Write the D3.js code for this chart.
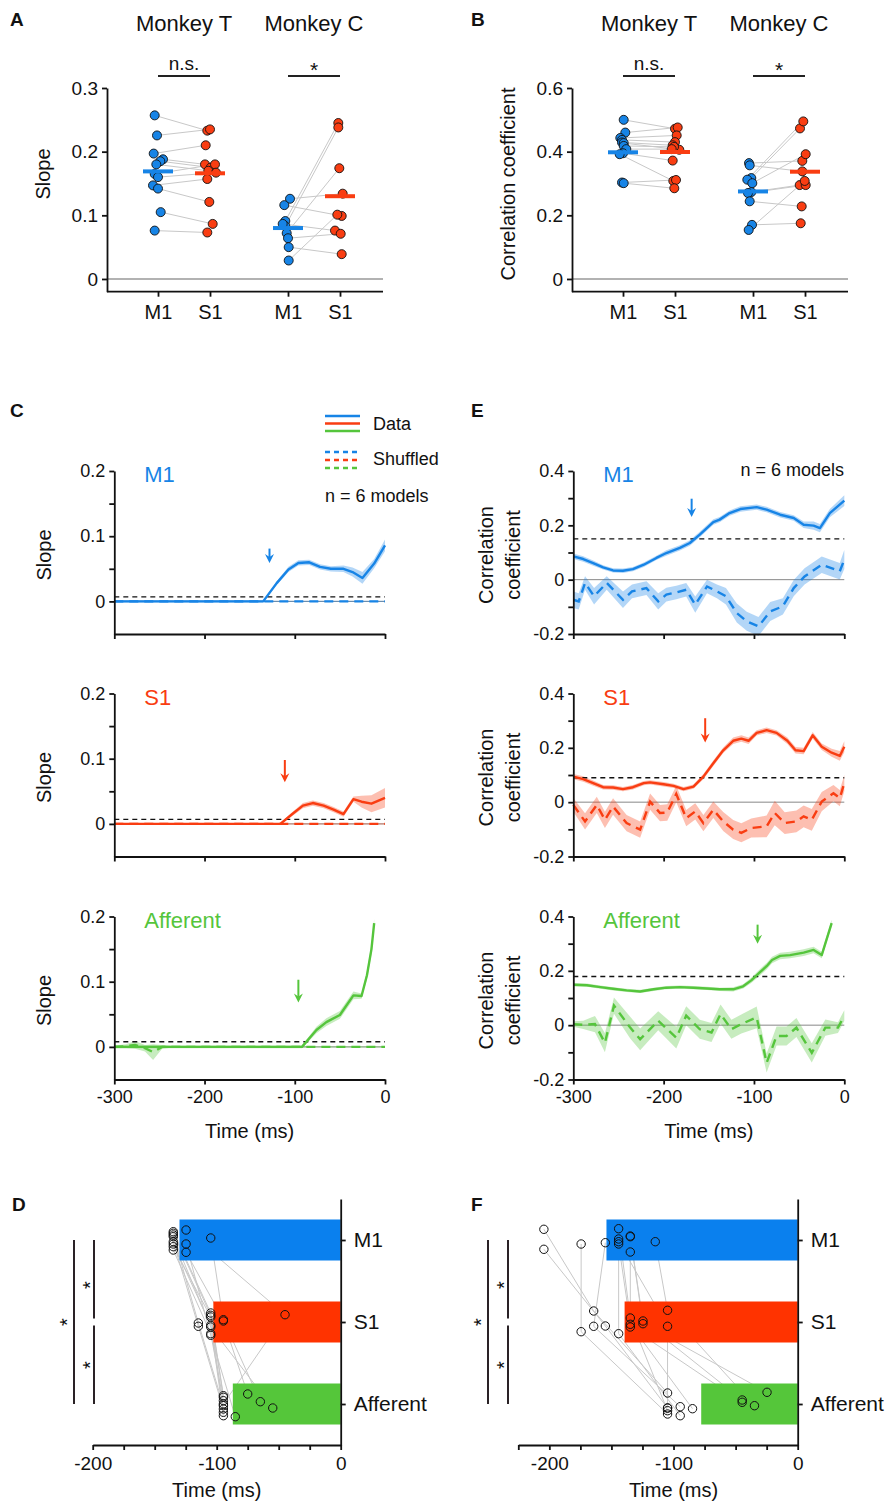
<!DOCTYPE html>
<html>
<head>
<meta charset="utf-8">
<script src="https://cdn.jsdelivr.net/npm/d3@7"></script>
<style>
body { margin: 0; background: #fff; }
text { font-family: 'Liberation Sans', Arial, Helvetica, sans-serif; fill: #111; }
</style>
</head>
<body>
<div id="fig"></div>
<script>
// ---------- data ----------
var monkeys = ["Monkey T", "Monkey C"];
var areas2 = ["M1", "S1"];
var areas3 = ["M1", "S1", "Afferent"];

// A: slope per model (paired M1 / S1), x jitter in px
var slopeT_M1 = [0.257, 0.2255, 0.197, 0.188, 0.185, 0.180, 0.165, 0.160, 0.147, 0.142, 0.105, 0.076];
var slopeT_S1 = [0.233, 0.235, 0.210, 0.180, 0.175, 0.170, 0.180, 0.167, 0.157, 0.121, 0.0865, 0.073];
var slopeT_M1j = [-3.3, -1, -4.3, 5, 2.3, -1.7, -3.3, 0, -5, 0, 2.7, -3.3];
var slopeT_S1j = [-2.7, 0, -4.3, -5, 0.7, -1.7, 5, 6, -2.7, -0.7, 2.7, -2.7];
var slopeC_M1 = [0.126, 0.116, 0.091, 0.083, 0.0865, 0.072, 0.064, 0.050, 0.029];
var slopeC_S1 = [0.134, 0.099, 0.245, 0.238, 0.076, 0.174, 0.071, 0.039, 0.101];
var slopeC_M1j = [2, -3.7, -2.7, -2.7, -5.3, -1.3, 0, 0.7, 0.7];
var slopeC_S1j = [2.7, 1.7, -1.7, -1.7, -5, -0.7, 0.7, 1.7, -2.7];
var slopeMedians = {T: [0.169, 0.166], C: [0.080, 0.130]};

// B: correlation coefficient per model
var corrT_M1 = [0.500, 0.460, 0.443, 0.437, 0.429, 0.427, 0.418, 0.408, 0.395, 0.392, 0.303, 0.301];
var corrT_S1 = [0.472, 0.476, 0.451, 0.430, 0.420, 0.406, 0.415, 0.408, 0.372, 0.308, 0.311, 0.285];
var corrT_M1j = [0.7, 2.3, -2.7, -1, -1, 0.7, 0.7, 3.3, 0, -3.3, -1, 0.7];
var corrT_S1j = [0, 2.7, 1.7, 0, -2.3, 4.3, -1, -3.3, -2.3, -1.7, 1, -0.7];
var corrC_M1 = [0.364, 0.357, 0.317, 0.312, 0.301, 0.273, 0.270, 0.244, 0.170, 0.154];
var corrC_S1 = [0.371, 0.338, 0.473, 0.495, 0.392, 0.295, 0.295, 0.228, 0.175, 0.308];
var corrC_M1j = [-4, -3.3, -1.7, -5.7, -0.7, -1.7, -5, -3.3, -1, -4.3];
var corrC_S1j = [-2.7, -2.7, -5, -1.7, 0.7, -5.3, 0.7, -3.3, -4.3, -0.3];
var corrMedians = {T: [0.398, 0.399], C: [0.275, 0.337]};

// C: slope vs time  [time ms, mean, half-width of band]
var cM1Data = [[-300,0,0.0015],[-135,0,0.0015],[-120,0.028,0.003],[-107,0.049,0.004],[-96,0.059,0.004],[-84,0.060,0.004],[-72,0.053,0.004],[-60,0.050,0.004],[-46,0.050,0.005],[-36,0.045,0.007],[-25,0.036,0.009],[-12,0.058,0.007],[0,0.086,0.009]];
var cM1Shuf = [[-300,0,0.001],[0,0,0.001]];
var cS1Data = [[-300,0,0.0015],[-116,0,0.0015],[-102,0.016,0.003],[-91,0.028,0.004],[-80,0.032,0.004],[-68,0.028,0.004],[-57,0.022,0.004],[-46,0.015,0.004],[-35,0.038,0.004],[-26,0.034,0.009],[-15,0.031,0.013],[0,0.040,0.015]];
var cS1Shuf = [[-300,0,0.001],[0,0,0.001]];
var cAffData = [[-300,0,0.002],[-92,0,0.002],[-76,0.026,0.005],[-65,0.038,0.006],[-50,0.049,0.006],[-35,0.079,0.006],[-26,0.078,0.004],[-20,0.11,0.006],[-15,0.15,0.008],[-12,0.19,0.006]];
var cAffShuf = [[-300,0,0.002],[-287,0.001,0.003],[-277,0.003,0.006],[-266,-0.002,0.005],[-257,-0.008,0.012],[-247,0,0.003],[-235,0,0.001],[0,0,0.001]];
var cThresholds = [0.007, 0.007, 0.008];
var cArrows = [[-128, 0.081, 0.059], [-111, 0.098, 0.064], [-96, 0.103, 0.068]]; // time, top, tip

// E: correlation vs time
var eM1Data = [[-300,0.086,0.01],[-289,0.076,0.01],[-278,0.061,0.01],[-267,0.045,0.008],[-256,0.034,0.008],[-245,0.033,0.008],[-234,0.039,0.008],[-222,0.055,0.008],[-208,0.080,0.008],[-197,0.098,0.01],[-182,0.117,0.01],[-171,0.135,0.01],[-160,0.166,0.01],[-145,0.212,0.01],[-138,0.221,0.01],[-127,0.245,0.01],[-115,0.260,0.01],[-97,0.267,0.01],[-86,0.258,0.01],[-71,0.239,0.01],[-56,0.227,0.01],[-45,0.202,0.012],[-34,0.199,0.015],[-27,0.190,0.015],[-16,0.245,0.015],[0,0.291,0.02]];
var eM1Shuf = [[-300,-0.074,0.03],[-294,-0.08,0.03],[-287,-0.012,0.025],[-277,-0.061,0.03],[-263,-0.012,0.025],[-245,-0.074,0.03],[-235,-0.043,0.025],[-219,-0.031,0.025],[-206,-0.080,0.03],[-197,-0.055,0.025],[-186,-0.047,0.025],[-175,-0.037,0.025],[-165,-0.092,0.03],[-152,-0.025,0.025],[-141,-0.043,0.025],[-131,-0.061,0.03],[-119,-0.123,0.035],[-108,-0.153,0.035],[-95,-0.172,0.035],[-82,-0.117,0.035],[-68,-0.098,0.03],[-56,-0.031,0.03],[-44,0.012,0.03],[-25,0.055,0.03],[-5,0.031,0.03],[0,0.074,0.035]];
var eS1Data = [[-300,0.094,0.01],[-289,0.085,0.01],[-278,0.070,0.01],[-267,0.055,0.008],[-256,0.054,0.008],[-245,0.048,0.008],[-234,0.055,0.008],[-222,0.070,0.008],[-215,0.073,0.008],[-200,0.066,0.008],[-189,0.060,0.008],[-178,0.048,0.008],[-167,0.057,0.008],[-156,0.094,0.01],[-145,0.143,0.01],[-134,0.191,0.01],[-123,0.226,0.012],[-114,0.234,0.012],[-106,0.226,0.012],[-97,0.255,0.01],[-86,0.265,0.01],[-75,0.255,0.01],[-63,0.226,0.012],[-54,0.191,0.012],[-45,0.188,0.012],[-35,0.246,0.012],[-25,0.204,0.012],[-14,0.182,0.015],[-5,0.170,0.018],[0,0.204,0.02]];
var eS1Shuf = [[-300,-0.01,0.025],[-287,-0.071,0.03],[-274,-0.01,0.03],[-265,-0.065,0.03],[-256,-0.016,0.03],[-241,-0.077,0.03],[-226,-0.101,0.03],[-215,0.002,0.03],[-204,-0.040,0.03],[-196,-0.038,0.03],[-186,0.030,0.03],[-175,-0.059,0.03],[-165,-0.034,0.03],[-156,-0.077,0.03],[-145,-0.028,0.03],[-134,-0.071,0.035],[-123,-0.101,0.035],[-114,-0.113,0.035],[-103,-0.095,0.035],[-86,-0.089,0.04],[-77,-0.040,0.045],[-66,-0.077,0.04],[-53,-0.071,0.04],[-45,-0.052,0.04],[-36,-0.065,0.04],[-25,0.002,0.035],[-12,0.033,0.03],[-5,0.015,0.03],[0,0.07,0.03]];
var eAffData = [[-300,0.149,0.006],[-285,0.147,0.006],[-270,0.140,0.006],[-256,0.134,0.006],[-241,0.128,0.006],[-226,0.124,0.006],[-211,0.132,0.006],[-197,0.138,0.006],[-182,0.140,0.006],[-167,0.138,0.006],[-152,0.135,0.006],[-138,0.132,0.006],[-123,0.132,0.008],[-112,0.143,0.008],[-103,0.165,0.01],[-93,0.196,0.012],[-86,0.217,0.012],[-80,0.240,0.012],[-71,0.255,0.012],[-60,0.258,0.012],[-45,0.267,0.012],[-34,0.277,0.012],[-25,0.258,0.012],[-14,0.376,0.012]];
var eAffShuf = [[-300,0.004,0.01],[-289,0.001,0.015],[-276,0.004,0.03],[-265,-0.065,0.035],[-255,0.072,0.03],[-237,-0.009,0.04],[-226,-0.052,0.04],[-206,0.016,0.035],[-186,-0.046,0.04],[-175,0.035,0.035],[-160,-0.015,0.035],[-147,-0.027,0.035],[-137,0.041,0.035],[-125,-0.015,0.035],[-114,0.004,0.035],[-97,0.029,0.04],[-86,-0.139,0.035],[-75,-0.040,0.035],[-64,-0.040,0.035],[-53,-0.009,0.035],[-36,-0.102,0.035],[-21,-0.009,0.03],[-7,-0.009,0.02],[0,0.035,0.02]];
var eThresholds = [0.150, 0.090, 0.179];
var eArrows = [[-169, 0.298, 0.231], [-154, 0.309, 0.22], [-96, 0.37, 0.30]];

// D: onset latency per model (ms), bar = group value, y jitter in px
var dBars = [-130, -102.7, -87];
var dM1 = [-135,-135,-135,-135,-135,-135,-124.7,-124.7,-124.7,-104.8,-135,-135];
var dS1 = [-104.8,-104.8,-114.8,-114.8,-104.8,-104.8,-44.9,-104.8,-94.6,-94.6,-104.8,-104.8];
var dAff = [-94.6,-94.6,-94.6,-94.6,-94.6,-94.6,-94.6,-85,-64.8,-75,-54.8,-94.6];
var dM1j = [-8.3,-6.7,-5,1.7,4,10,-10,4,12.3,-2,-3.3,6.7];
var dS1j = [-9,-6.7,1,4.3,3.3,11.7,-7.3,13.3,-2.3,-1,5,-5];
var dAffj = [-8.3,-6.7,1.7,5,11.7,-3.3,0,12.7,-2.3,-10,4,8.3];

// F
var fBars = [-154, -139.4, -77.7];
var fM1 = [-204.4,-204.4,-174.4,-154.9,-144.2,-144.2,-144.2,-134.8,-134.8,-114.7,-134.8,-144.2];
var fS1 = [-164.3,-154.9,-174.4,-164.3,-134.8,-144.2,-134.8,-124.6,-134.8,-104.8,-124.6,-104.8];
var fAff = [-104.8,-104.8,-104.8,-94.6,-104.8,-94.6,-84.7,-44.7,-44.7,-34.8,-24.7,-104.8];
var fM1j = [-10.7,9.3,4,2.7,-11.3,-1,4,-4,12,1.7,-3.3,1.7];
var fS1j = [-11,4,9.7,4.3,-4,11.7,2.3,-1,5,-11.7,1.7,4.3];
var fAffj = [-11,4,10,2.7,6.7,11.7,4.7,-4,-1.7,1.7,-11.7,4];

// ---------- style ----------
var blue = "#1784e6", red = "#f93d12", green = "#55c53c";
var barColors = ["#0a80ee", "#ff3300", "#55c63a"];
var axisW = 1.8;

var svg = d3.select("#fig").append("svg").attr("width", 890).attr("height", 1508);

function fmt(d) { return d === 0 ? "0" : d3.format(".1f")(d).replace("\u2212", "-"); }

function styleAxis(g, size) {
  g.selectAll("path,line").attr("stroke", "#111").attr("stroke-width", axisW);
  g.selectAll("text").attr("font-size", size).attr("font-family", "'Liberation Sans', Arial, sans-serif").attr("fill", "#111");
}

function letter(x, y, s) {
  svg.append("text").attr("x", x).attr("y", y).text(s).style("font-weight", "bold").style("font-size", "19px");
}

function vlabel(x, y, s, size) {
  svg.append("text").attr("transform", "translate(" + x + "," + y + ") rotate(-90)")
    .attr("text-anchor", "middle").attr("dominant-baseline", "central").style("font-size", size + "px").text(s);
}

// ---------- A / B ----------
function pairPanel(p) {
  var y = d3.scaleLinear().domain(p.yDom).range([291.7, 88]);
  var mx = d3.scaleBand().domain(monkeys).range(p.mRange);
  var ax = d3.scalePoint().domain(areas2).range([-26, 26]);
  var cx = function (m, a) { return mx(m) + mx.bandwidth() / 2 + ax(a); };

  svg.append("line").attr("x1", p.axisX).attr("x2", p.xEnd).attr("y1", y(0)).attr("y2", y(0))
    .attr("stroke", "#999").attr("stroke-width", 1.5);

  var ya = svg.append("g").attr("transform", "translate(" + p.axisX + ",0)")
    .call(d3.axisLeft(y).tickValues(p.ticks).tickSize(5).tickSizeOuter(0).tickPadding(4).tickFormat(fmt));
  styleAxis(ya, 19);

  svg.append("line").attr("x1", p.axisX).attr("x2", p.xEnd).attr("y1", 291.7).attr("y2", 291.7)
    .attr("stroke", "#111").attr("stroke-width", axisW);
  monkeys.forEach(function (m) {
    var c = mx(m) + mx.bandwidth() / 2;
    var xa = svg.append("g").attr("transform", "translate(" + c + ",291.7)")
      .call(d3.axisBottom(ax).tickSize(5).tickSizeOuter(0).tickPadding(8));
    xa.select(".domain").remove();
    styleAxis(xa, 20);
    svg.append("text").attr("x", c).attr("y", 31).attr("text-anchor", "middle").style("font-size", "22px").text(m);
    svg.append("line").attr("x1", cx(m, "M1")).attr("x2", cx(m, "S1")).attr("y1", 76).attr("y2", 76)
      .attr("stroke", "#222").attr("stroke-width", 1.8);
  });
  svg.append("text").attr("x", cx("Monkey T", "M1") + 26).attr("y", 70).attr("text-anchor", "middle").style("font-size", "19px").text("n.s.");
  svg.append("text").attr("x", cx("Monkey C", "M1") + 26).attr("y", 77).attr("text-anchor", "middle").style("font-size", "21px").text("*");

  vlabel(p.labelX, p.labelY, p.label, 20);

  p.groups.forEach(function (gr) {
    var pairs = gr.m1.map(function (v, i) { return {a: v, b: gr.s1[i], ja: gr.m1j[i], jb: gr.s1j[i]}; });
    svg.append("g").selectAll("line").data(pairs).enter().append("line")
      .attr("x1", function (d) { return cx(gr.m, "M1") + d.ja; }).attr("y1", function (d) { return y(d.a); })
      .attr("x2", function (d) { return cx(gr.m, "S1") + d.jb; }).attr("y2", function (d) { return y(d.b); })
      .attr("stroke", "#c8c8c8").attr("stroke-width", 1);
    [["M1", "a", "ja", blue, 0], ["S1", "b", "jb", red, 1]].forEach(function (s) {
      svg.append("g").selectAll("circle").data(pairs).enter().append("circle")
        .attr("cx", function (d) { return cx(gr.m, s[0]) + d[s[2]]; })
        .attr("cy", function (d) { return y(d[s[1]]); })
        .attr("r", 4.5).attr("fill", s[3]).attr("stroke", "#111").attr("stroke-width", 0.9);
      svg.append("line").attr("x1", cx(gr.m, s[0]) - 15).attr("x2", cx(gr.m, s[0]) + 15)
        .attr("y1", y(gr.med[s[4]])).attr("y2", y(gr.med[s[4]]))
        .attr("stroke", s[3]).attr("stroke-width", 4);
    });
  });
}

pairPanel({yDom: [-0.02, 0.3], ticks: [0, 0.1, 0.2, 0.3], axisX: 107, xEnd: 383, mRange: [119, 379],
  label: "Slope", labelX: 43, labelY: 174,
  groups: [
    {m: "Monkey T", m1: slopeT_M1, s1: slopeT_S1, m1j: slopeT_M1j, s1j: slopeT_S1j, med: slopeMedians.T},
    {m: "Monkey C", m1: slopeC_M1, s1: slopeC_S1, m1j: slopeC_M1j, s1j: slopeC_S1j, med: slopeMedians.C}
  ]});
pairPanel({yDom: [-0.04, 0.6], ticks: [0, 0.2, 0.4, 0.6], axisX: 572, xEnd: 848, mRange: [584, 844],
  label: "Correlation coefficient", labelX: 508, labelY: 184,
  groups: [
    {m: "Monkey T", m1: corrT_M1, s1: corrT_S1, m1j: corrT_M1j, s1j: corrT_S1j, med: corrMedians.T},
    {m: "Monkey C", m1: corrC_M1, s1: corrC_S1, m1j: corrC_M1j, s1j: corrC_S1j, med: corrMedians.C}
  ]});

// ---------- C / E ----------
function timePanel(p) {
  var x = d3.scaleLinear().domain([-300, 0]).range([p.x0, p.x1]);
  var y = d3.scaleLinear().domain(p.yDom).range([p.top + 163, p.top]);
  var g = svg.append("g");
  var area = d3.area().x(function (d) { return x(d[0]); })
    .y0(function (d) { return y(d[1] - d[2]); }).y1(function (d) { return y(d[1] + d[2]); });
  var line = d3.line().x(function (d) { return x(d[0]); }).y(function (d) { return y(d[1]); });

  g.append("line").attr("x1", p.x0).attr("x2", p.x1).attr("y1", y(0)).attr("y2", y(0))
    .attr("stroke", "#888").attr("stroke-width", 1);
  g.append("path").attr("d", area(p.shuf)).attr("fill", p.color).attr("opacity", 0.33);
  g.append("path").attr("d", area(p.data)).attr("fill", p.color).attr("opacity", 0.33);
  g.append("line").attr("x1", p.x0).attr("x2", p.x1).attr("y1", y(p.thr)).attr("y2", y(p.thr))
    .attr("stroke", "#111").attr("stroke-width", 1.4).attr("stroke-dasharray", "5,4");
  g.append("path").attr("d", line(p.shuf)).attr("fill", "none").attr("stroke", p.color)
    .attr("stroke-width", 2.4).attr("stroke-dasharray", "9,6");
  g.append("path").attr("d", line(p.data)).attr("fill", "none").attr("stroke", p.color)
    .attr("stroke-width", 2.4).attr("stroke-linejoin", "round");

  // onset arrow
  var ax = x(p.arrow[0]), yTop = y(p.arrow[1]), yTip = y(p.arrow[2]);
  g.append("line").attr("x1", ax).attr("x2", ax).attr("y1", yTop).attr("y2", yTip - 4)
    .attr("stroke", p.color).attr("stroke-width", 2);
  g.append("path").attr("d", "M" + ax + "," + yTip + "L" + (ax - 4.5) + "," + (yTip - 9) +
    "L" + ax + "," + (yTip - 6) + "L" + (ax + 4.5) + "," + (yTip - 9) + "Z").attr("fill", p.color);

  var ya = g.append("g").attr("transform", "translate(" + p.x0 + ",0)")
    .call(d3.axisLeft(y).tickValues(p.ticks.concat(p.minor)).tickSize(5).tickSizeOuter(0).tickPadding(4)
      .tickFormat(function (d) { return p.ticks.indexOf(d) >= 0 ? fmt(d) : ""; }));
  styleAxis(ya, 18);
  var xa = g.append("g").attr("transform", "translate(0," + (p.top + 163) + ")")
    .call(d3.axisBottom(x).tickValues([-300, -200, -100, 0]).tickSize(5).tickSizeOuter(0).tickPadding(6)
      .tickFormat(function (d) { return p.showX ? String(d) : ""; }));
  styleAxis(xa, 18);
  if (p.showX) {
    g.append("text").attr("x", (p.x0 + p.x1) / 2).attr("y", p.top + 221).attr("text-anchor", "middle")
      .style("font-size", "20px").text("Time (ms)");
  }
  g.append("text").attr("x", p.x0 + 30).attr("y", p.top + 11).attr("fill", p.color)
    .style("fill", p.color).style("font-size", "22px").text(p.name);
}

var rowTops = [471, 693.5, 916.5];
var rowNames = ["M1", "S1", "Afferent"];
var rowColors = [blue, red, green];
var cData = [cM1Data, cS1Data, cAffData], cShuf = [cM1Shuf, cS1Shuf, cAffShuf];
var eData = [eM1Data, eS1Data, eAffData], eShuf = [eM1Shuf, eS1Shuf, eAffShuf];

rowTops.forEach(function (top, i) {
  timePanel({x0: 114.3, x1: 385, top: top, yDom: [-0.05, 0.2], ticks: [0, 0.1, 0.2], minor: [0.05, 0.15],
    data: cData[i], shuf: cShuf[i], thr: cThresholds[i], arrow: cArrows[i], color: rowColors[i],
    name: rowNames[i], showX: i === 2});
  vlabel(44, top + 84, "Slope", 20);
  timePanel({x0: 573.3, x1: 844.3, top: top, yDom: [-0.2, 0.4], ticks: [-0.2, 0, 0.2, 0.4], minor: [-0.1, 0.1, 0.3],
    data: eData[i], shuf: eShuf[i], thr: eThresholds[i], arrow: eArrows[i], color: rowColors[i],
    name: rowNames[i], showX: i === 2});
  vlabel(486, top + 84, "Correlation", 20);
  vlabel(513, top + 84, "coefficient", 20);
});

// legend (panel C) and n labels
rowColors.forEach(function (c, i) {
  svg.append("line").attr("x1", 325).attr("x2", 360).attr("y1", 416 + i * 7.5).attr("y2", 416 + i * 7.5)
    .attr("stroke", c).attr("stroke-width", 2.4);
  svg.append("line").attr("x1", 325).attr("x2", 360).attr("y1", 452 + i * 8).attr("y2", 452 + i * 8)
    .attr("stroke", c).attr("stroke-width", 2.4).attr("stroke-dasharray", "5,4");
});
svg.append("text").attr("x", 373).attr("y", 430).style("font-size", "18px").text("Data");
svg.append("text").attr("x", 373).attr("y", 465).style("font-size", "18px").text("Shuffled");
svg.append("text").attr("x", 325).attr("y", 502).style("font-size", "18px").text("n = 6 models");
svg.append("text").attr("x", 844).attr("y", 476).attr("text-anchor", "end").style("font-size", "18px").text("n = 6 models");

// ---------- D / F ----------
function latencyPanel(p) {
  var x = d3.scaleLinear().domain([p.xmin, 0]).range([p.left, p.right]);
  var y = d3.scalePoint().domain(areas3).range([1199, 1445]).padding(0.5);
  var bh = 41;
  var models = p.m1.map(function (v, i) {
    return [[v, y("M1") + p.m1j[i]], [p.s1[i], y("S1") + p.s1j[i]], [p.aff[i], y("Afferent") + p.affj[i]]];
  });
  var line = d3.line().x(function (d) { return x(d[0]); }).y(function (d) { return d[1]; });

  svg.append("g").selectAll("path").data(models).enter().append("path")
    .attr("d", line).attr("fill", "none").attr("stroke", "#c8c8c8").attr("stroke-width", 1);
  svg.append("g").selectAll("rect").data(p.bars).enter().append("rect")
    .attr("x", function (d) { return x(d); }).attr("width", function (d) { return x(0) - x(d); })
    .attr("y", function (d, i) { return y(areas3[i]) - bh / 2; }).attr("height", bh)
    .attr("fill", function (d, i) { return barColors[i]; });
  var pts = [].concat.apply([], models);
  svg.append("g").selectAll("circle").data(pts).enter().append("circle")
    .attr("cx", function (d) { return x(d[0]); }).attr("cy", function (d) { return d[1]; })
    .attr("r", 4.2).attr("fill", "none").attr("stroke", "#111").attr("stroke-width", 1);

  var xa = svg.append("g").attr("transform", "translate(0,1445)")
    .call(d3.axisBottom(x).tickValues(d3.range(p.xmin, 1, 25)).tickSize(5).tickSizeOuter(0).tickPadding(7)
      .tickFormat(function (d) { return d % 100 === 0 ? String(d) : ""; }));
  styleAxis(xa, 19);
  var ya = svg.append("g").attr("transform", "translate(" + x(0) + ",0)")
    .call(d3.axisRight(y).tickSize(5).tickSizeOuter(0).tickPadding(8));
  styleAxis(ya, 21);
  svg.append("text").attr("x", x(-100)).attr("y", 1497).attr("text-anchor", "middle").style("font-size", "20px").text("Time (ms)");

  // significance brackets
  var yM = y("M1"), yS = y("S1"), yA = y("Afferent");
  function vl(xx, a, b) {
    svg.append("line").attr("x1", xx).attr("x2", xx).attr("y1", a).attr("y2", b)
      .attr("stroke", "#2a2226").attr("stroke-width", 2);
  }
  vl(p.br1, yM, yA);
  vl(p.br2, yM, yS - 3.5);
  vl(p.br2, yS + 3.5, yA);
  // rotated asterisks: glyph sits ~0.57em above baseline, so shift right by that to centre it
  [[p.br1 - 11, yS], [p.br2 - 8, (yM + yS) / 2 + 4], [p.br2 - 8, (yS + yA) / 2 + 2]].forEach(function (s) {
    svg.append("text").attr("transform", "translate(" + (s[0] + 11.4) + "," + s[1] + ") rotate(-90)")
      .attr("text-anchor", "middle").style("font-size", "20px").text("*");
  });
}

latencyPanel({xmin: -200, left: 92.7, right: 340.7, bars: dBars, m1: dM1, s1: dS1, aff: dAff,
  m1j: dM1j, s1j: dS1j, affj: dAffj, br1: 74, br2: 94});
latencyPanel({xmin: -225, left: 518.3, right: 797.7, bars: fBars, m1: fM1, s1: fS1, aff: fAff,
  m1j: fM1j, s1j: fS1j, affj: fAffj, br1: 488, br2: 508});

letter(10, 26, "A"); letter(471, 26, "B");
letter(10, 417, "C"); letter(471, 417, "E");
letter(12, 1211, "D"); letter(471, 1211, "F");
</script>
</body>
</html>
